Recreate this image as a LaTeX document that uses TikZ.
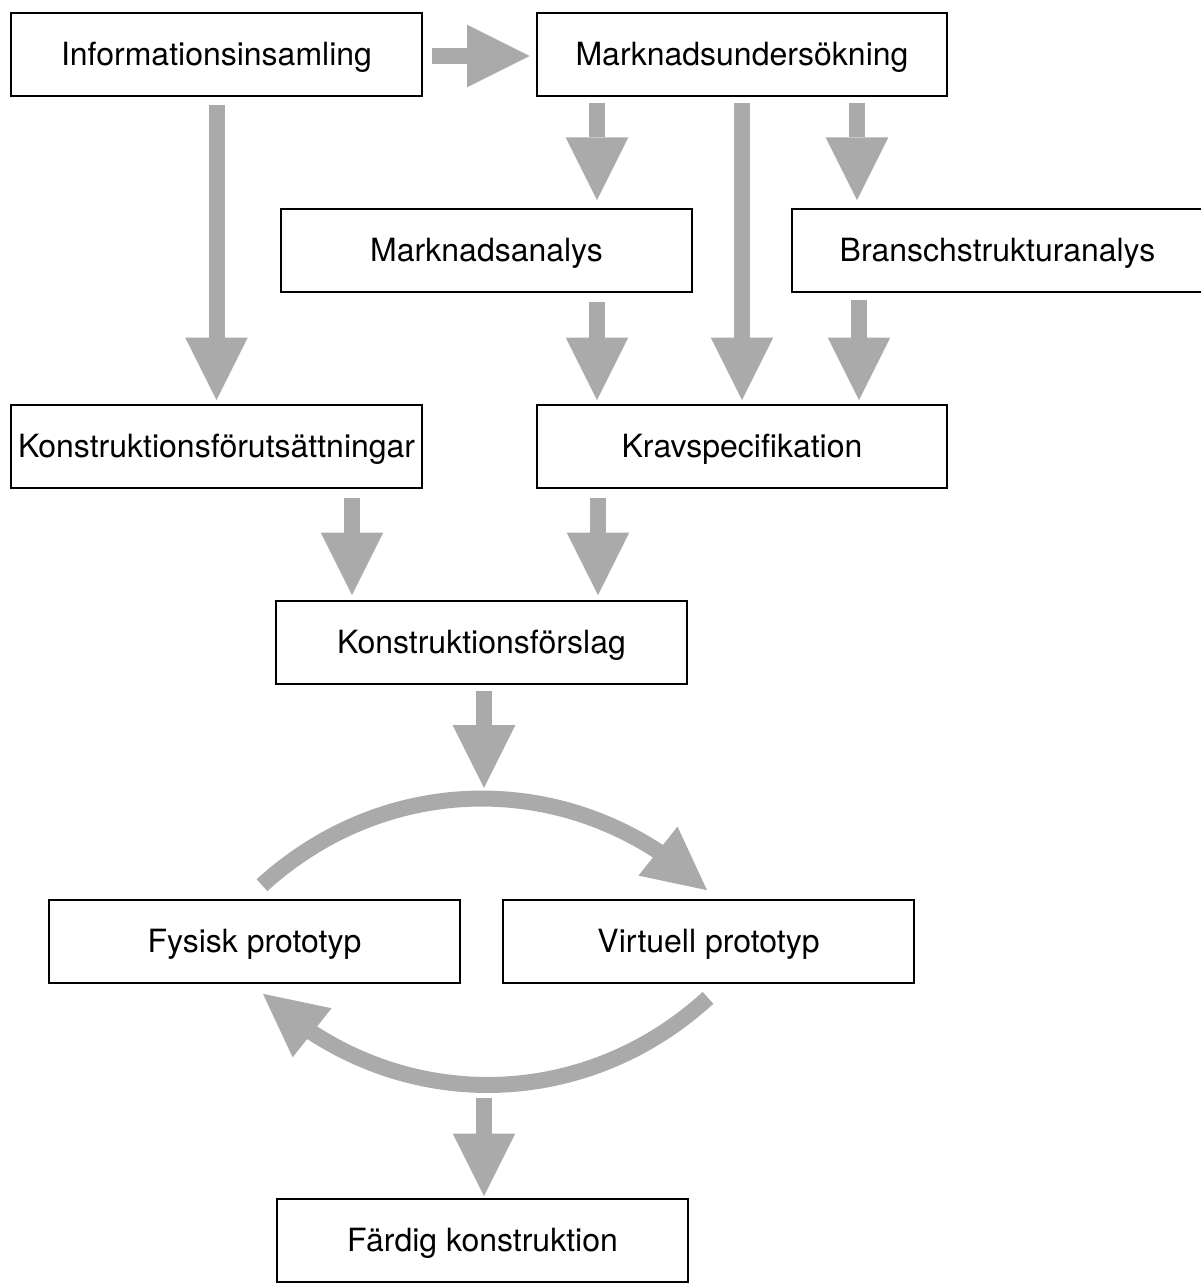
\documentclass[tikz,border=0pt]{standalone}
\usepackage{fontspec}
\setmainfont{TeX Gyre Heros}
\usepackage{tikz}
\usetikzlibrary{arrows.meta,bending,calc}
\definecolor{arrowgray}{HTML}{AAAAAA}
\begin{document}
\begin{tikzpicture}[x=0.75pt,y=-0.75pt,
	box/.style={draw,line width=1.5pt,minimum width=308pt,minimum height=62pt,inner sep=0pt,text height=18pt,text depth=1.5pt,font=\fontsize{24}{28}\selectfont},
	flow/.style={draw=arrowgray,line width=12pt,-{Triangle[length=47pt,width=47pt,line width=0pt]}}]
\useasboundingbox (0,0) rectangle (1200,1284);

\node[box] (info) at (216.5,54.5) {Informationsinsamling};
\node[box] (mu) at (742,54.5) {Marknadsundersökning};
\node[box] (ma) at (486.5,250.5) {Marknadsanalys};
\node[box] (bs) at (997.5,250.5) {Branschstrukturanalys};
\node[box] (kf) at (216.5,446.5) {Konstruktionsförutsättningar};
\node[box] (ks) at (742,446.5) {Kravspecifikation};
\node[box] (fo) at (481.5,642.5) {Konstruktionsförslag};
\node[box] (fys) at (254.5,941.5) {Fysisk prototyp};
\node[box] (virt) at (708.5,941.5) {Virtuell prototyp};
\node[box] (fc) at (482.5,1240.5) {Färdig konstruktion};
\coordinate (loopin) at ($(fo.south)+(2.5,103)$);
\coordinate (loopout) at ($(fc.north)+(1.5,-100)$);

\draw[flow] ($(info.east)+(9,1.5)$) -- ($(mu.west)+(-6,1.5)$);
\draw[flow] ($(info.south)+(0,8)$) -- ($(kf.north)+(0,-4)$);
\draw[flow] ($(mu.south)+(-145,6)$) -- ($(ma.north)+(110.5,-8)$);
\draw[flow] ($(mu.south)+(0,6)$) -- ($(ks.north)+(0,-4)$);
\draw[flow] ($(mu.south)+(115,6)$) -- ($(bs.north)+(-140.5,-8)$);
\draw[flow] ($(ma.south)+(110.5,9)$) -- ($(ks.north)+(-145,-4)$);
\draw[flow] ($(bs.south)+(-138.5,7)$) -- ($(ks.north)+(117,-4)$);
\draw[flow] ($(kf.south)+(135.5,9)$) -- ($(fo.north)+(-129.5,-5)$);
\draw[flow] ($(ks.south)+(-144,9)$) -- ($(fo.north)+(116.5,-5)$);
\draw[flow] ($(fo.south)+(2.5,6)$) -- (loopin);
\draw[flow] ($(fys.north)+(7.5,-14)$) to[bend left=43] ($(virt.north)+(-1.5,-9)$);
\draw[flow] ($(virt.south)+(-0.5,14)$) to[bend left=43] ($(fys.south)+(8.5,10)$);
\draw[flow] (loopout) -- ($(fc.north)+(1.5,-2)$);

\end{tikzpicture}
\end{document}
